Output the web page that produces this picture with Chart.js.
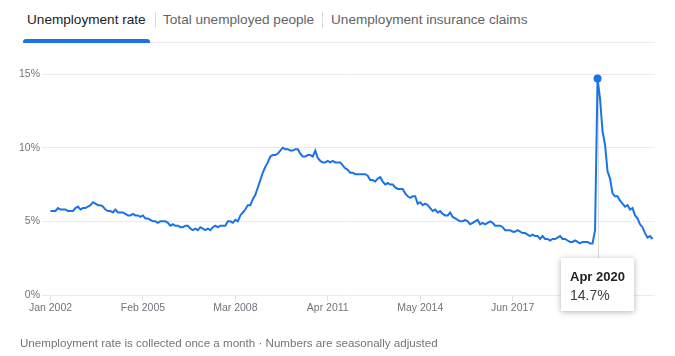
<!DOCTYPE html>
<html>
<head>
<meta charset="utf-8">
<script src="https://cdn.jsdelivr.net/npm/chart.js@4/dist/chart.umd.min.js"></script>
<style>
  html, body { margin: 0; padding: 0; background: #fff; }
  body { width: 675px; height: 356px; position: relative; overflow: hidden;
         font-family: "Liberation Sans", Arial, sans-serif; }
  #wrap { position: absolute; left: 0; top: 0; width: 675px; height: 356px; }
  .tab { position: absolute; top: 11px; font-size: 13.6px; color: #5f6368; white-space: nowrap; line-height: 17px; }
  .tab.active { color: #202124; }
  .sep { position: absolute; top: 12px; width: 1px; height: 16px; background: #dadce0; }
  #underline { position: absolute; left: 24px; top: 42px; width: 631px; height: 1px; background: #ebebeb; }
  #activebar { position: absolute; left: 23px; top: 39px; width: 127px; height: 4px; background: #1a73e8; border-radius: 3px 3px 0 0; }
  #footer { position: absolute; left: 20px; top: 335px; font-size: 11.6px; color: #70757a; white-space: nowrap; line-height: 16px; }
</style>
</head>
<body>
<div class="tab active" style="left:27px">Unemployment rate</div>
<div class="sep" style="left:155px"></div>
<div class="tab" style="left:163px">Total unemployed people</div>
<div class="sep" style="left:322px"></div>
<div class="tab" style="left:331px">Unemployment insurance claims</div>
<div id="underline"></div>
<div id="activebar"></div>
<div id="wrap"><canvas id="c"></canvas></div>
<div id="footer">Unemployment rate is collected once a month · Numbers are seasonally adjusted</div>
<script>
// ---- Data (monthly unemployment rate, %, Jan 2002 .. Feb 2022) ----
const startYear = 2002;
const monthNames = ["Jan","Feb","Mar","Apr","May","Jun","Jul","Aug","Sep","Oct","Nov","Dec"];
const rates = [
  5.7,5.7,5.7,5.9,5.8,5.8,5.8,5.7,5.7,5.7,5.9,6.0,   // 2002
  5.8,5.9,5.9,6.0,6.1,6.3,6.2,6.1,6.1,6.0,5.8,5.7,   // 2003
  5.7,5.6,5.8,5.6,5.6,5.6,5.5,5.4,5.4,5.5,5.4,5.4,   // 2004
  5.3,5.4,5.2,5.2,5.1,5.0,5.0,4.9,5.0,5.0,5.0,4.9,   // 2005
  4.7,4.8,4.7,4.7,4.6,4.6,4.7,4.7,4.5,4.4,4.5,4.4,   // 2006
  4.6,4.5,4.4,4.5,4.4,4.6,4.7,4.6,4.7,4.7,4.7,5.0,   // 2007
  5.0,4.9,5.1,5.0,5.4,5.6,5.8,6.1,6.1,6.5,6.8,7.3,   // 2008
  7.8,8.3,8.7,9.0,9.4,9.5,9.5,9.6,9.8,10.0,9.9,9.9,  // 2009
  9.8,9.8,9.9,9.9,9.6,9.4,9.4,9.5,9.5,9.4,9.8,9.3,   // 2010
  9.1,9.0,9.0,9.1,9.0,9.1,9.0,9.0,9.0,8.8,8.6,8.5,   // 2011
  8.3,8.3,8.2,8.2,8.2,8.2,8.2,8.1,7.8,7.8,7.7,7.9,   // 2012
  8.0,7.7,7.5,7.6,7.5,7.5,7.3,7.2,7.2,7.2,6.9,6.7,   // 2013
  6.6,6.7,6.7,6.2,6.3,6.1,6.2,6.1,5.9,5.7,5.8,5.6,   // 2014
  5.7,5.5,5.4,5.4,5.6,5.3,5.2,5.1,5.0,5.0,5.1,5.0,   // 2015
  4.8,4.9,5.0,5.1,4.8,4.9,4.8,4.9,5.0,4.9,4.7,4.7,   // 2016
  4.7,4.6,4.4,4.4,4.4,4.3,4.3,4.4,4.3,4.2,4.2,4.1,   // 2017
  4.0,4.1,4.0,4.0,3.8,4.0,3.8,3.8,3.7,3.8,3.8,3.9,   // 2018
  4.0,3.8,3.8,3.7,3.6,3.6,3.7,3.6,3.5,3.6,3.6,3.6,   // 2019
  3.5,3.5,4.4,14.7,13.3,11.1,10.2,8.4,7.9,6.9,6.7,6.7, // 2020
  6.4,6.2,6.0,6.1,5.8,5.9,5.4,5.2,4.8,4.6,4.2,3.9,   // 2021
  4.0,3.8                                            // 2022
];
const tickLabels = ["Jan 2002","Feb 2005","Mar 2008","Apr 2011","May 2014","Jun 2017","Jul 2020"];
const tickIndices = [0,37,74,111,148,185,222];
const yTicks = [0,5,10,15];
const highlightIndex = 219; // Apr 2020

const monthLabel = i => monthNames[i % 12] + " " + (startYear + Math.floor(i / 12));
const points = rates.map((v, i) => ({ x: i, y: v }));

const hoverPlugin = {
  id: 'hover',
  beforeDatasetsDraw(chart) {
    const meta = chart.getDatasetMeta(0);
    const pt = meta.data[highlightIndex];
    const ctx = chart.ctx;
    ctx.save();
    ctx.strokeStyle = '#dadce0';
    ctx.lineWidth = 1;
    ctx.beginPath();
    ctx.moveTo(Math.round(pt.x) + 0.5, pt.y);
    ctx.lineTo(Math.round(pt.x) + 0.5, chart.chartArea.bottom + 2);
    ctx.stroke();
    ctx.restore();
  },
  afterDraw(chart) {
    const meta = chart.getDatasetMeta(0);
    const pt = meta.data[highlightIndex];
    const ctx = chart.ctx;
    const title = monthLabel(highlightIndex);
    const body = rates[highlightIndex].toFixed(1) + "%";
    const w = 73, h = 53;
    const bx = Math.round(pt.x) - 37, by = chart.chartArea.bottom - 37;
    ctx.save();
    ctx.shadowColor = 'rgba(0,0,0,0.3)';
    ctx.shadowBlur = 6;
    ctx.shadowOffsetY = 1;
    ctx.fillStyle = '#ffffff';
    ctx.fillRect(bx, by, w, h);
    ctx.restore();
    ctx.save();
    ctx.fillStyle = '#202124';
    ctx.font = 'bold 13px "Liberation Sans", Arial, sans-serif';
    ctx.textBaseline = 'alphabetic';
    ctx.fillText(title, bx + 9, by + 23);
    ctx.fillStyle = '#3c4043';
    ctx.font = '14px "Liberation Sans", Arial, sans-serif';
    ctx.fillText(body, bx + 9, by + 42);
    ctx.restore();
  }
};

new Chart(document.getElementById('c'), {
  type: 'line',
  data: {
    datasets: [{
      data: points,
      borderColor: '#1a73e8',
      backgroundColor: '#1a73e8',
      borderWidth: 2,
      tension: 0,
      pointRadius: ctx => ctx.dataIndex === highlightIndex ? 4 : 0,
      pointHoverRadius: 0,
      pointBorderWidth: 0,
      fill: false
    }]
  },
  options: {
    responsive: true,
    maintainAspectRatio: false,
    animation: false,
    events: [],
    layout: { padding: { left: 0, top: 74, right: 20, bottom: 36 } },
    plugins: { legend: { display: false }, tooltip: { enabled: false } },
    scales: {
      x: {
        type: 'linear',
        min: -3.4,
        max: 242,
        afterBuildTicks: s => { s.ticks = tickIndices.map(v => ({ value: v })); },
        afterFit: s => { s.height = 25; },
        border: { display: false },
        grid: { drawOnChartArea: false, drawTicks: true, tickLength: 6, tickColor: '#e3e3e3' },
        ticks: {
          autoSkip: false, maxRotation: 0, padding: 1,
          color: '#70757a',
          font: { family: '"Liberation Sans", Arial, sans-serif', size: 10.5 },
          callback: v => tickLabels[tickIndices.indexOf(v)]
        }
      },
      y: {
        min: 0, max: 15,
        afterBuildTicks: s => { s.ticks = yTicks.map(v => ({ value: v })); },
        afterFit: s => { s.width = 42; },
        border: { display: false },
        grid: { color: '#ebebeb', lineWidth: 1, drawTicks: false },
        ticks: {
          padding: 2,
          color: '#70757a',
          font: { family: '"Liberation Sans", Arial, sans-serif', size: 10.5 },
          callback: v => v + '%'
        }
      }
    }
  },
  plugins: [hoverPlugin]
});
</script>
</body>
</html>
